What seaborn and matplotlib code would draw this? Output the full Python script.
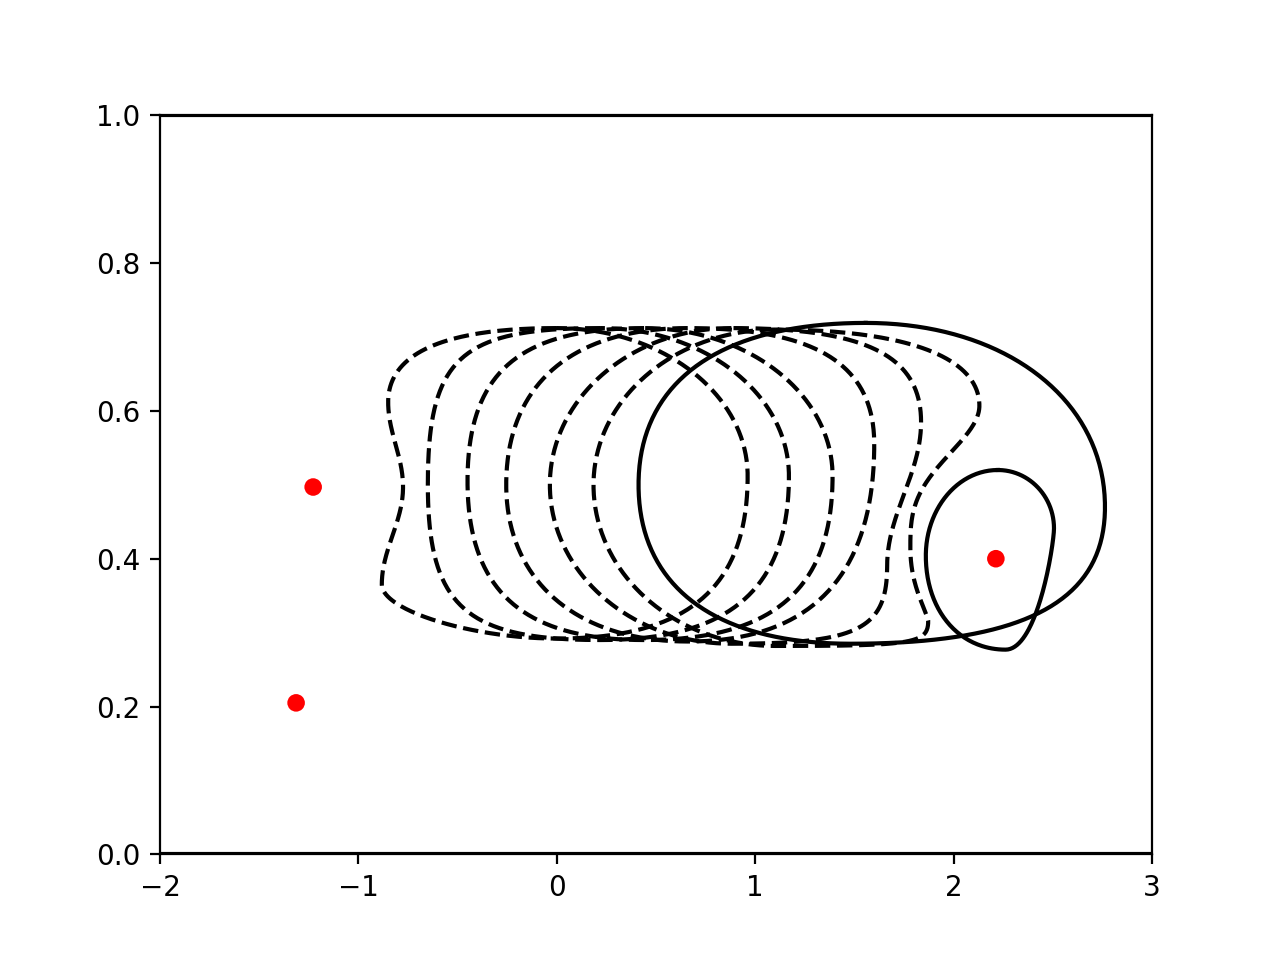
import numpy as np
import pandas as pd
import matplotlib
matplotlib.use("Agg")
import matplotlib.pyplot as plt
import seaborn as sns

# red point sources
red_x = [-1.228, -1.314, 2.213]
red_y = [0.497, 0.205, 0.400]

# dashed contours: key points going round (h = top/bottom extreme, v = side extreme)
# and one shape exponent per segment (2 = elliptic, >2 boxier, <2 flatter);
# a pair gives separate values for the start and end of the segment
dash_a_x = [0.0, -0.85, -0.775, -0.882, 0.0, 0.962]
dash_a_y = [0.712, 0.612, 0.497, 0.365, 0.292, 0.512]
dash_a_kind = "hvvvhv"
dash_a_exp = [2.4, 1.0, 1.0, 1.8, 2.5, 2.0]

dash_b_x = [0.22, -0.65, 0.22, 1.17]
dash_b_y = [0.712, 0.50, 0.29, 0.512]
dash_b_kind = "hvhv"
dash_b_exp = [3.2, 3.0, 2.5, 2.0]

dash_c_x = [0.44, -0.45, 0.44, 1.39]
dash_c_y = [0.712, 0.505, 0.29, 0.512]
dash_c_kind = "hvhv"
dash_c_exp = [2.6, 2.5, 2.5, 2.0]

dash_d_x = [0.66, -0.255, 0.66, 1.60]
dash_d_y = [0.712, 0.50, 0.288, 0.555]
dash_d_kind = "hvhv"
dash_d_exp = [2.3, 2.2, 2.4, 2.5]

dash_e_x = [0.88, -0.035, 0.88, 1.665, 1.836]
dash_e_y = [0.712, 0.50, 0.285, 0.39, 0.585]
dash_e_kind = "hvhvv"
dash_e_exp = [2.0, 2.0, 3.2, 1.0, 2.6]

dash_f_x = [1.1, 0.185, 1.1, 1.872, 1.782, 2.13]
dash_f_y = [0.71, 0.50, 0.282, 0.316, 0.415, 0.607]
dash_f_kind = "hvhvvv"
dash_f_exp = [2.0, 2.0, 4.0, 1.6, 0.68, 2.3]

# solid contours
big_x = [1.557, 0.412, 1.48, 2.763]
big_y = [0.719, 0.50, 0.285, 0.47]
big_kind = "hvhv"
big_exp = [2.3, 2.3, 2.5, 2.1]

small_x = [2.223, 1.86, 2.262, 2.506]
small_y = [0.520, 0.404, 0.277, 0.441]
small_kind = "hvhv"
small_exp = [2.0, 2.1, (2.4, 1.15), 2.0]


def handle(e):
    # Bezier handle length whose midpoint matches a superellipse of exponent e
    return (2 ** (-1 / e) - 0.5) / 0.375


def piece(x0, y0, x1, y1, k0, k1, e, n=80):
    s = np.linspace(0, 1, n)
    if k0 != k1:
        e0, e1 = e if isinstance(e, tuple) else (e, e)
        h0, h1 = handle(e0), handle(e1)
        if k0 == "v":
            p1 = (x0, y0 + h0 * (y1 - y0))
            p2 = (x1 + h1 * (x0 - x1), y1)
        else:
            p1 = (x0 + h0 * (x1 - x0), y0)
            p2 = (x1, y1 + h1 * (y0 - y1))
        b0, b1, b2, b3 = (1 - s) ** 3, 3 * s * (1 - s) ** 2, 3 * s ** 2 * (1 - s), s ** 3
        x = b0 * x0 + b1 * p1[0] + b2 * p2[0] + b3 * x1
        y = b0 * y0 + b1 * p1[1] + b2 * p2[1] + b3 * y1
        return x, y
    # S-bend between two extremes of the same kind
    f = (1 - np.cos(np.pi * s)) / 2
    g = s ** e
    if k0 == "v":
        return x0 + (x1 - x0) * f, y0 + (y1 - y0) * g
    return x0 + (x1 - x0) * g, y0 + (y1 - y0) * f


def trace(xs, ys, kinds, exps):
    px, py = [], []
    m = len(xs)
    for i in range(m):
        j = (i + 1) % m
        x, y = piece(xs[i], ys[i], xs[j], ys[j], kinds[i], kinds[j], exps[i])
        px.extend(x)
        py.extend(y)
    return pd.DataFrame({"x": px, "y": py})


fig, ax = plt.subplots(figsize=(6.4, 4.8), dpi=200)

dashed = [
    (dash_a_x, dash_a_y, dash_a_kind, dash_a_exp),
    (dash_b_x, dash_b_y, dash_b_kind, dash_b_exp),
    (dash_c_x, dash_c_y, dash_c_kind, dash_c_exp),
    (dash_d_x, dash_d_y, dash_d_kind, dash_d_exp),
    (dash_e_x, dash_e_y, dash_e_kind, dash_e_exp),
    (dash_f_x, dash_f_y, dash_f_kind, dash_f_exp),
]
for xs, ys, kinds, exps in dashed:
    df = trace(xs, ys, kinds, exps)
    sns.lineplot(data=df, x="x", y="y", sort=False, estimator=None,
                 color="black", linestyle="--", linewidth=1.5, ax=ax)

for xs, ys, kinds, exps in [(big_x, big_y, big_kind, big_exp),
                            (small_x, small_y, small_kind, small_exp)]:
    df = trace(xs, ys, kinds, exps)
    sns.lineplot(data=df, x="x", y="y", sort=False, estimator=None,
                 color="black", linewidth=1.5, ax=ax)

# channel walls
ax.axhline(0, color="black", linewidth=1.5)
ax.axhline(1, color="black", linewidth=1.5)

sns.scatterplot(x=red_x, y=red_y, color="red", s=40, edgecolor="none",
                zorder=5, ax=ax)

ax.set_xlim(-2, 3)
ax.set_ylim(0, 1)
ax.set_xlabel("")
ax.set_ylabel("")

fig.savefig("out.png", dpi=200)
